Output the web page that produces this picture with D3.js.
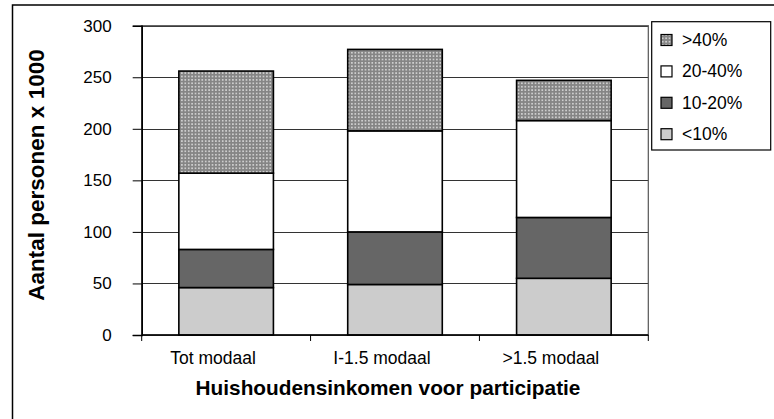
<!DOCTYPE html>
<html>
<head>
<meta charset="utf-8">
<script src="https://cdn.jsdelivr.net/npm/d3@7"></script>
<style>
  body { margin: 0; background: #fff; }
  svg { display: block; font-family: "Liberation Sans", Arial, sans-serif; }
</style>
</head>
<body>
<svg id="chart" width="774" height="419"></svg>
<script>
// categories and stacked series (aantal personen x 1000)
var categories = ["Tot modaal", "I-1.5 modaal", ">1.5 modaal"];
var seriesNames = ["<10%", "10-20%", "20-40%", ">40%"];
var below10 = [46, 49, 55];
var from10to20 = [37, 51, 59];
var from20to40 = [74, 98, 94];
var above40 = [99, 79, 39];
var yTicks = [0, 50, 100, 150, 200, 250, 300];

var colors = { "<10%": "#cccccc", "10-20%": "#666666", "20-40%": "#ffffff", ">40%": "url(#dots)" };

var margins = { left: 141.7, right: 648.3, top: 25.7, bottom: 335 };

var svg = d3.select("#chart");

// dotted fill for >40%
var defs = svg.append("defs");
var pat = defs.append("pattern")
    .attr("id", "dots")
    .attr("patternUnits", "userSpaceOnUse")
    .attr("width", 3.4)
    .attr("height", 3.4);
pat.append("rect").attr("width", 3.4).attr("height", 3.4).attr("fill", "#858585");
pat.append("circle").attr("cx", 1.7).attr("cy", 1.7).attr("r", 0.85).attr("fill", "#e6e6e6");

// outer frame
svg.append("rect")
    .attr("x", 12.5).attr("y", 5)
    .attr("width", 900).attr("height", 600)
    .attr("fill", "none")
    .attr("stroke", "#000")
    .attr("stroke-width", 1.5);

var x = d3.scaleBand()
    .domain(categories)
    .range([margins.left, margins.right])
    .paddingInner(0.44)
    .paddingOuter(0.22);

var y = d3.scaleLinear()
    .domain([0, 300])
    .range([margins.bottom, margins.top]);

// gridlines
svg.append("g")
    .selectAll("line")
    .data(yTicks)
    .enter()
    .append("line")
    .attr("x1", margins.left)
    .attr("x2", margins.right)
    .attr("y1", function(d){ return Math.round(y(d)) + 0.5; })
    .attr("y2", function(d){ return Math.round(y(d)) + 0.5; })
    .attr("stroke", "#333")
    .attr("stroke-width", 1);

// plot area border
svg.append("rect")
    .attr("x", margins.left).attr("y", margins.top)
    .attr("width", margins.right - margins.left)
    .attr("height", margins.bottom - margins.top)
    .attr("fill", "none")
    .attr("stroke", "#555")
    .attr("stroke-width", 1.2);

// stacked bars
var table = categories.map(function(c, i) {
    return { cat: c, "<10%": below10[i], "10-20%": from10to20[i], "20-40%": from20to40[i], ">40%": above40[i] };
});
var stacked = d3.stack().keys(seriesNames)(table);

svg.append("g")
    .selectAll("g")
    .data(stacked)
    .enter()
    .append("g")
    .attr("fill", function(s){ return colors[s.key]; })
    .selectAll("rect")
    .data(function(s){ return s; })
    .enter()
    .append("rect")
    .attr("x", function(d){ return x(d.data.cat); })
    .attr("width", x.bandwidth())
    .attr("y", function(d){ return y(d[1]); })
    .attr("height", function(d){ return y(d[0]) - y(d[1]); })
    .attr("stroke", "#000")
    .attr("stroke-width", 1.6);

// y axis
var yAxis = svg.append("g")
    .attr("transform", "translate(" + margins.left + ",0)")
    .call(d3.axisLeft(y).tickValues(yTicks).tickSize(9).tickPadding(21));
yAxis.select(".domain").attr("stroke", "#000").attr("stroke-width", 1.6);
yAxis.selectAll(".tick line").attr("stroke", "#000");
yAxis.selectAll("text")
    .attr("font-size", 17)
    .attr("font-family", "Liberation Sans, Arial, sans-serif")
    .attr("fill", "#000");

// x axis line and ticks at category boundaries
svg.append("line")
    .attr("x1", margins.left).attr("x2", margins.right)
    .attr("y1", margins.bottom).attr("y2", margins.bottom)
    .attr("stroke", "#000").attr("stroke-width", 1.6);

svg.append("g")
    .selectAll("line")
    .data(d3.range(categories.length + 1))
    .enter()
    .append("line")
    .attr("x1", function(i){ return margins.left + i * x.step(); })
    .attr("x2", function(i){ return margins.left + i * x.step(); })
    .attr("y1", margins.bottom)
    .attr("y2", margins.bottom + 6)
    .attr("stroke", "#000");

svg.append("g")
    .selectAll("text")
    .data(categories)
    .enter()
    .append("text")
    .attr("x", function(d){ return x(d) + x.bandwidth() / 2 - 13; })
    .attr("y", 364)
    .attr("text-anchor", "middle")
    .attr("font-size", 17.5)
    .text(function(d){ return d; });

// axis titles
svg.append("text")
    .attr("x", 388)
    .attr("y", 395)
    .attr("text-anchor", "middle")
    .attr("font-size", 20.8)
    .attr("font-weight", "bold")
    .text("Huishoudensinkomen voor participatie");

svg.append("text")
    .attr("transform", "translate(44,175) rotate(-90)")
    .attr("text-anchor", "middle")
    .attr("font-size", 22.5)
    .attr("font-weight", "bold")
    .text("Aantal personen x 1000");

// legend
var legend = svg.append("g");
legend.append("rect")
    .attr("x", 651.7).attr("y", 21.7)
    .attr("width", 119).attr("height", 128.3)
    .attr("fill", "#fff")
    .attr("stroke", "#000")
    .attr("stroke-width", 1.2);

var entries = legend.selectAll("g.entry")
    .data(seriesNames.slice().reverse())
    .enter()
    .append("g")
    .attr("class", "entry")
    .attr("transform", function(d, i){ return "translate(661," + (40 + i * 31.4) + ")"; });

entries.append("rect")
    .attr("x", 0).attr("y", -5.5)
    .attr("width", 11).attr("height", 11)
    .attr("fill", function(d){ return colors[d]; })
    .attr("stroke", "#000")
    .attr("stroke-width", 1.2);

entries.append("text")
    .text(function(d){ return d; })
    .attr("x", 21)
    .attr("y", 6)
    .attr("font-size", 17.5);
</script>
</body>
</html>
